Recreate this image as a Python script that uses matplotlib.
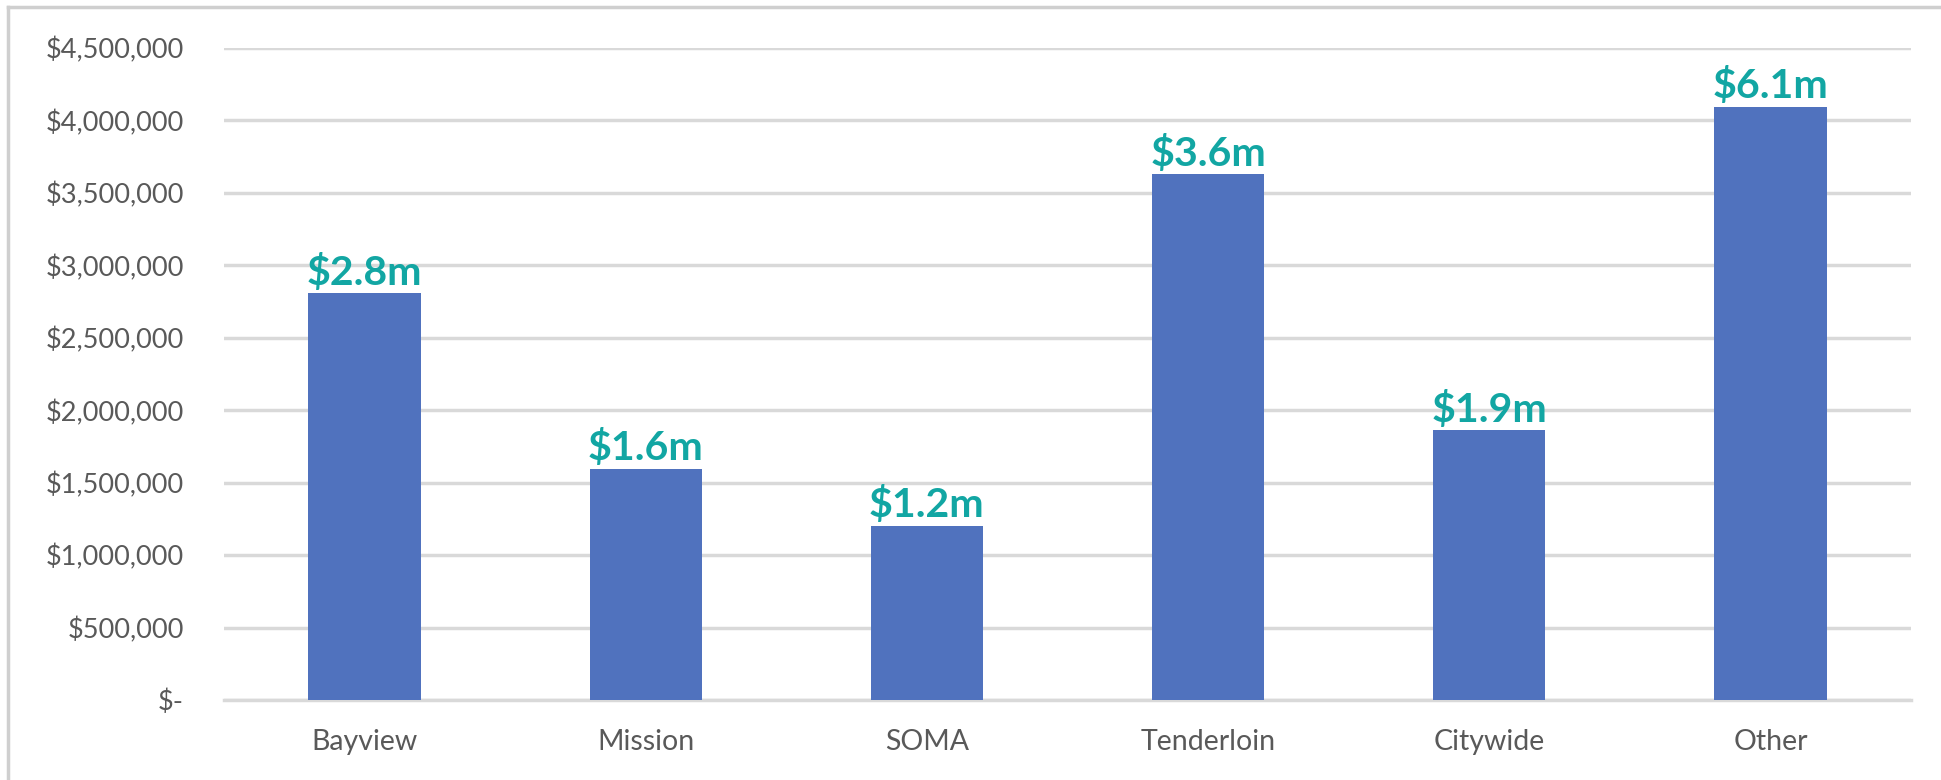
"""
Funding by neighborhood - bar chart with teal value labels
"""

import matplotlib
matplotlib.use("Agg")
import matplotlib.pyplot as plt
from matplotlib.lines import Line2D
from matplotlib.ticker import FuncFormatter, MultipleLocator

# data
neighborhoods = ["Bayview", "Mission", "SOMA", "Tenderloin", "Citywide", "Other"]
bar_heights = [2810000, 1597000, 1204000, 3629000, 1861000, 4095000]
value_labels = ["$2.8m", "$1.6m", "$1.2m", "$3.6m", "$1.9m", "$6.1m"]

BAR_COLOR = "#5072BE"
LABEL_COLOR = "#12A6A3"
TEXT_GRAY = "#595959"
GRID_GRAY = "#D9D9D9"

plt.rcParams["font.family"] = ["Lato", "DejaVu Sans"]

fig = plt.figure(figsize=(19.41, 7.80), dpi=100)
ax = fig.add_axes([224 / 1941, 1 - 700 / 780, 1687 / 1941, 652 / 780])

x = range(len(neighborhoods))
ax.bar(x, bar_heights, width=0.40, color=BAR_COLOR, zorder=3)

for xi, h, lab in zip(x, bar_heights, value_labels):
    ax.annotate(lab, (xi, h), xytext=(0, 6), textcoords="offset points",
                ha="center", va="baseline", fontsize=29.5, fontweight="bold",
                color=LABEL_COLOR, zorder=4)

ax.set_xlim(-0.5, len(neighborhoods) - 0.5)
ax.set_ylim(0, 4500000)
ax.yaxis.set_major_locator(MultipleLocator(500000))


def money(v, pos):
    if v == 0:
        return "$-"
    return f"${v:,.0f}"


ax.yaxis.set_major_formatter(FuncFormatter(money))
ax.set_xticks(list(x))
ax.set_xticklabels(neighborhoods)

ax.grid(axis="y", color=GRID_GRAY, linewidth=2.5, zorder=0)
ax.set_axisbelow(True)
for side in ["top", "right", "left"]:
    ax.spines[side].set_visible(False)
ax.spines["bottom"].set_color(GRID_GRAY)
ax.spines["bottom"].set_linewidth(2.5)

ax.tick_params(axis="both", length=0, labelsize=19.5, colors=TEXT_GRAY)
ax.tick_params(axis="x", labelsize=20.5)
ax.tick_params(axis="y", pad=29)
ax.tick_params(axis="x", pad=21)

# thin frame on the left and top, like the cropped screenshot
fig.add_artist(Line2D([8 / 1941, 8 / 1941], [0, 1 - 7 / 780],
                      color="#CFCFCF", linewidth=2.5))
fig.add_artist(Line2D([8 / 1941, 1], [1 - 7 / 780, 1 - 7 / 780],
                      color="#CFCFCF", linewidth=2.5))

fig.savefig("out.png", dpi=100, facecolor="white")
